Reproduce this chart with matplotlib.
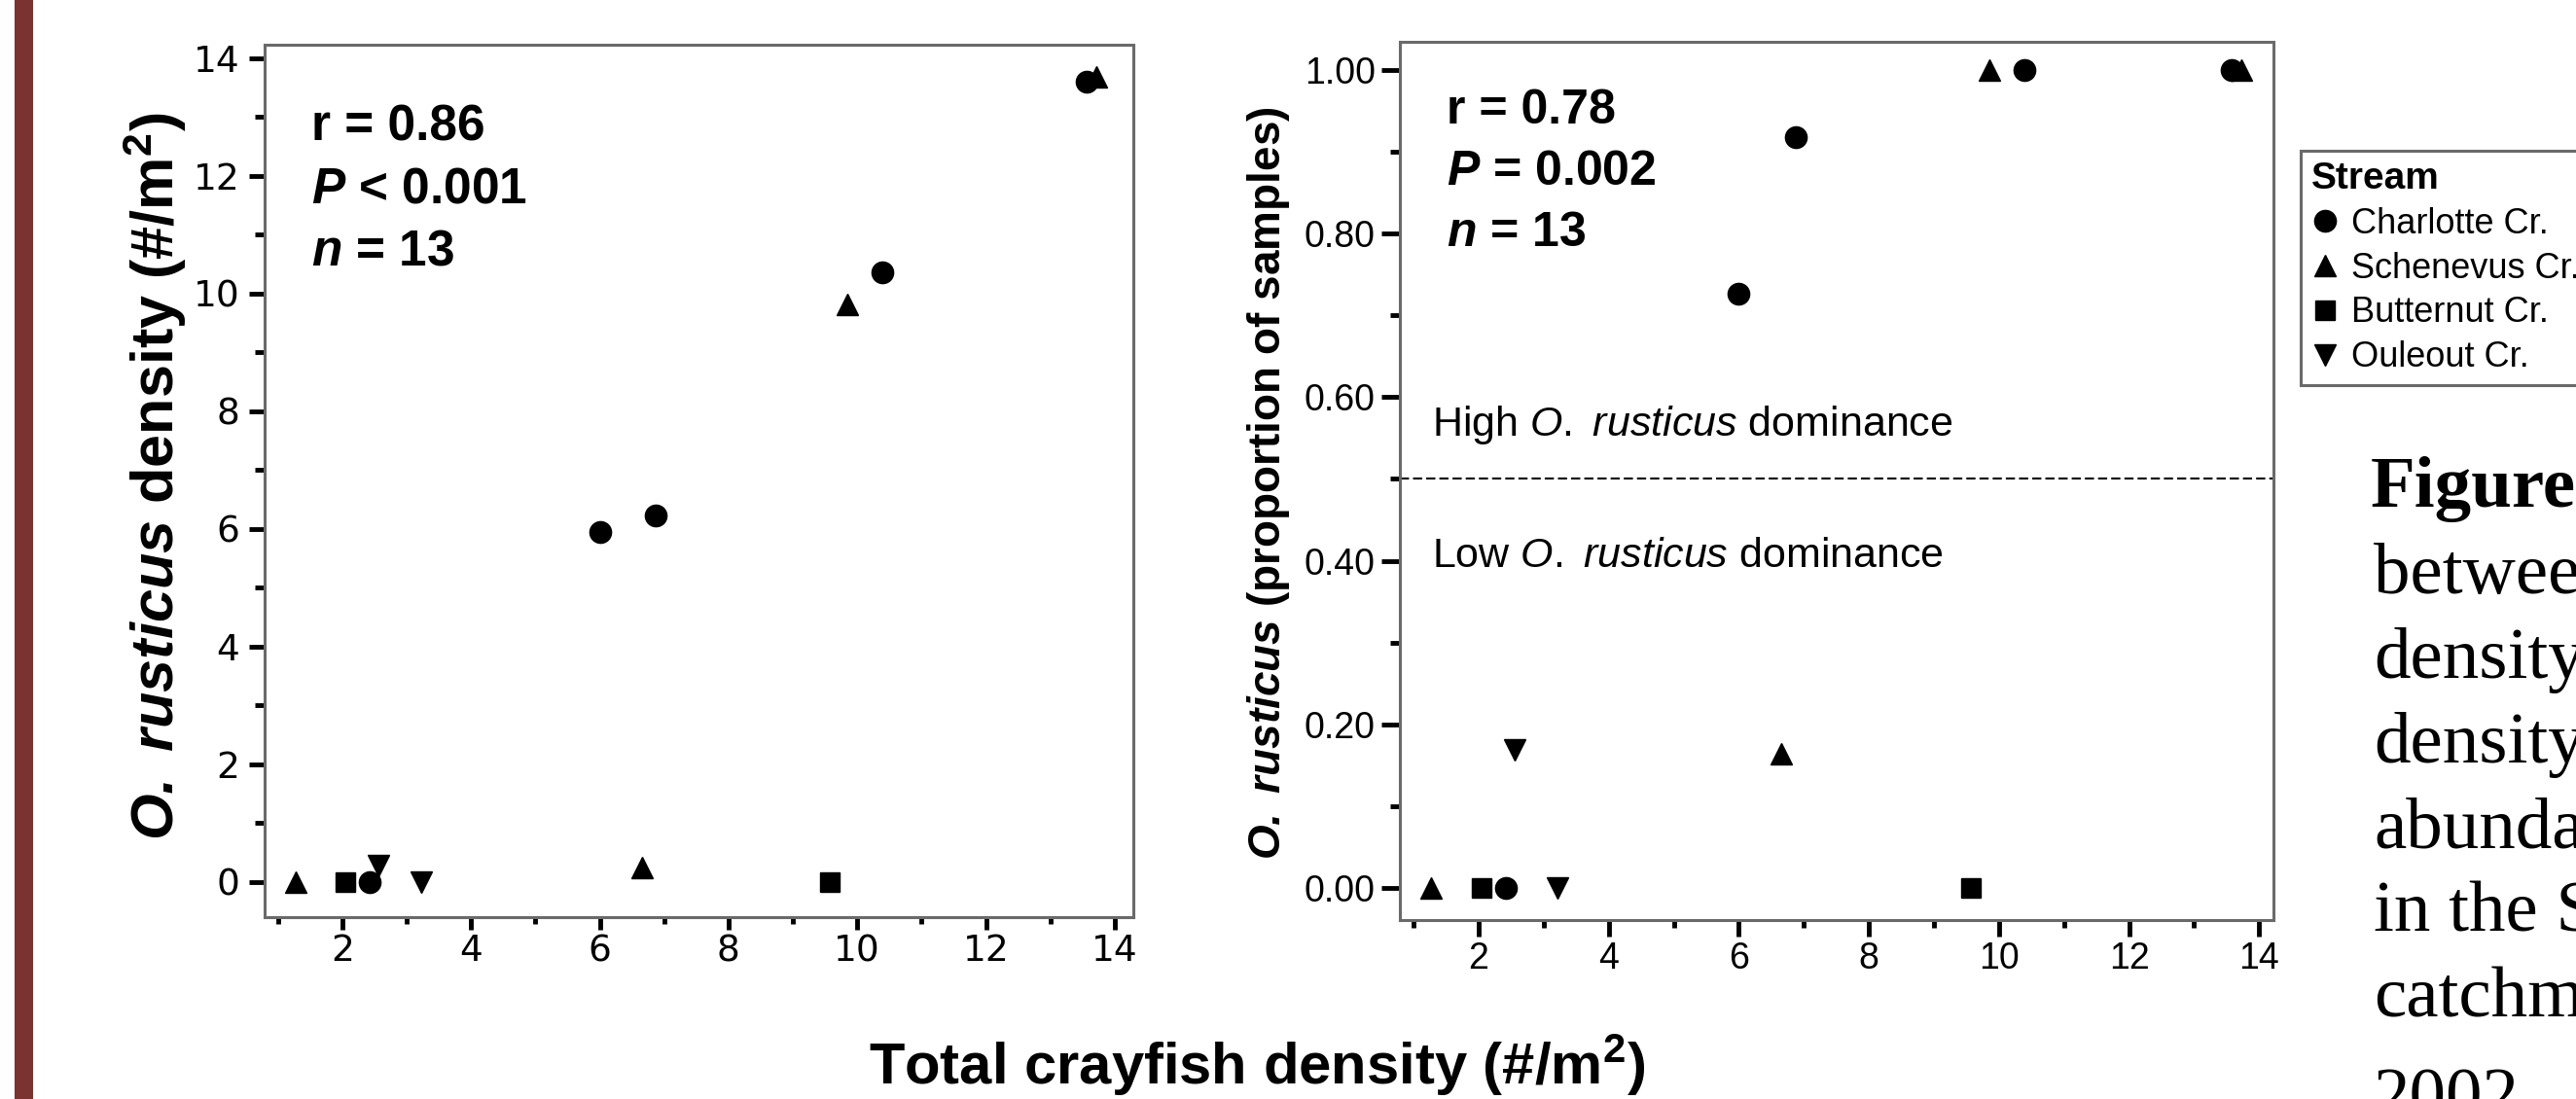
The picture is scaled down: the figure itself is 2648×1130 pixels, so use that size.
import matplotlib
matplotlib.use("Agg")
import matplotlib.pyplot as plt
from matplotlib import font_manager
from matplotlib.patches import Rectangle
from matplotlib.ticker import FormatStrFormatter

# data: total crayfish density (x) per stream,
# O. rusticus density (left panel) and proportion of samples (right panel)
streams = ["Charlotte Cr.", "Schenevus Cr.", "Butternut Cr.", "Ouleout Cr."]
markers = ["o", "^", "s", "v"]

charlotte_total = [2.42, 6.0, 6.87, 10.39, 13.57]
charlotte_dens = [0.0, 5.94, 6.22, 10.36, 13.60]
charlotte_prop = [0.0, 0.726, 0.917, 1.0, 1.0]

schenevus_total = [1.27, 6.66, 9.85, 13.72]
schenevus_dens = [0.0, 0.25, 9.82, 13.68]
schenevus_prop = [0.0, 0.164, 1.0, 1.0]

butternut_total = [2.05, 9.57]
butternut_dens = [0.0, 0.0]
butternut_prop = [0.0, 0.0]

ouleout_total = [2.56, 3.22]
ouleout_dens = [0.28, 0.0]
ouleout_prop = [0.169, 0.0]

stats_left = ["r = 0.86", r"$\mathbfit{P}$ < 0.001", r"$\mathbfit{n}$ = 13"]
stats_right = ["r = 0.78", r"$\mathbfit{P}$ = 0.002", r"$\mathbfit{n}$ = 13"]

# caption fragment, cut by the right edge of the page
caption = ["betwee", "density", "density", "abunda", "in the S", "catchm"]

plt.rcParams["font.family"] = ["Liberation Sans", "DejaVu Sans"]
plt.rcParams["mathtext.fontset"] = "custom"
plt.rcParams["mathtext.rm"] = "Liberation Sans"
plt.rcParams["mathtext.it"] = "Liberation Sans:italic"
plt.rcParams["mathtext.bf"] = "Liberation Sans:bold"
try:
    plt.rcParams["mathtext.bfit"] = "Liberation Sans:italic:bold"
except KeyError:
    pass

names = {f.name for f in font_manager.fontManager.ttflist}
narrow = "Liberation Sans Narrow" if "Liberation Sans Narrow" in names else "DejaVu Sans"

W, H = 2648, 1130
fig = plt.figure(figsize=(W / 100, H / 100), dpi=100)

# dark red bar on the left edge
fig.add_artist(Rectangle((15 / W, 0), 19 / W, 1, transform=fig.transFigure,
                         facecolor="#7a3330", edgecolor="none"))

ax1 = fig.add_axes([272 / W, 1 - 943 / H, (1165 - 272) / W, (943 - 46) / H])
ax2 = fig.add_axes([1439 / W, 1 - 946 / H, (2337 - 1439) / W, (946 - 43) / H])

groups = [
    (charlotte_total, charlotte_dens, charlotte_prop),
    (schenevus_total, schenevus_dens, schenevus_prop),
    (butternut_total, butternut_dens, butternut_prop),
    (ouleout_total, ouleout_dens, ouleout_prop),
]
sizes = [16, 16, 15, 16]
handles = []
for name, m, ms, (tx, dens, prop) in zip(streams, markers, sizes, groups):
    h, = ax1.plot(tx, dens, linestyle="none", marker=m, ms=ms,
                  color="black", label=name, clip_on=False)
    ax2.plot(tx, prop, linestyle="none", marker=m, ms=ms, color="black",
             clip_on=False)
    handles.append(h)

ax1.set_xlim(0.79, 14.29)
ax1.set_ylim(-0.6, 14.23)
ax2.set_xlim(0.79, 14.22)
ax2.set_ylim(-0.039, 1.034)

for ax in (ax1, ax2):
    ax.set_xticks(range(2, 15, 2))
    ax.set_xticks(range(1, 15, 2), minor=True)
    for sp in ax.spines.values():
        sp.set_color("#6a6a6a")
        sp.set_linewidth(2.2)

ax1.set_yticks(range(0, 15, 2))
ax1.set_yticks(range(1, 14, 2), minor=True)
ax2.set_yticks([0, 0.2, 0.4, 0.6, 0.8, 1.0])
ax2.set_yticks([0.1, 0.3, 0.5, 0.7, 0.9], minor=True)
ax2.yaxis.set_major_formatter(FormatStrFormatter("%.2f"))

ax1.tick_params(axis="x", which="major", length=9.5, width=3.5, pad=3)
ax1.tick_params(axis="x", which="minor", length=5, width=3.5)
ax1.tick_params(axis="y", which="major", length=11.5, width=3.5, pad=7)
ax1.tick_params(axis="y", which="minor", length=7, width=3.5)
for lab in ax1.get_xticklabels() + ax1.get_yticklabels():
    lab.set_fontfamily(narrow)
    lab.set_fontsize(27)

ax2.tick_params(axis="x", which="major", length=12, width=3.5, pad=4,
                labelsize=27)
ax2.tick_params(axis="x", which="minor", length=6, width=3.5)
ax2.tick_params(axis="y", which="major", length=14, width=3.5, pad=4,
                labelsize=27)
ax2.tick_params(axis="y", which="minor", length=7, width=3.5)

# statistics text
for i, s in enumerate(stats_left):
    ax1.text(0.054, [0.89, 0.819, 0.748][i], s, transform=ax1.transAxes,
             fontsize=37, fontweight="bold", va="baseline")
for i, s in enumerate(stats_right):
    ax2.text(0.053, [0.907, 0.837, 0.767][i], s, transform=ax2.transAxes,
             fontsize=36, fontweight="bold", va="baseline")

# dominance threshold
ax2.axhline(0.5, color="black", lw=1.5, ls=(0, (4.5, 2)))
ax2.text(0.037, 0.566, r"High $\mathit{O.}$ $\mathit{rusticus}$ dominance",
         transform=ax2.get_yaxis_transform(), fontsize=31, va="center")
ax2.text(0.037, 0.406, r"Low $\mathit{O.}$ $\mathit{rusticus}$ dominance",
         transform=ax2.get_yaxis_transform(), fontsize=31, va="center")

# axis labels
fig.text(159 / W, 1 - 490 / H,
         r"$\mathbfit{O.\ rusticus}$ density (#/m$^\mathbf{2}$)",
         rotation=90, ha="center", va="center", fontsize=44,
         fontweight="bold")
fig.text(1304 / W, 1 - 497 / H,
         r"$\mathbfit{O.\ rusticus}$ (proportion of samples)",
         rotation=90, ha="center", va="center", fontsize=33,
         fontweight="bold")
fig.text(1292 / W, 1 - 1115 / H, r"Total crayfish density (#/m$^\mathbf{2}$)",
         ha="center", va="baseline", fontsize=43, fontweight="bold")

# legend
leg = fig.legend(handles=handles, labels=streams, title="Stream",
                 loc="upper left", bbox_to_anchor=(2365 / W, 1 - 155 / H),
                 bbox_transform=fig.transFigure, fontsize=26,
                 title_fontproperties={"weight": "bold", "size": 28},
                 alignment="left", borderpad=0.3, borderaxespad=0,
                 handlelength=0.8, handletextpad=0.35, labelspacing=0.3,
                 fancybox=False, framealpha=1, edgecolor="#6a6a6a")
leg.get_frame().set_linewidth(2.2)

# caption fragment on the right edge
fig.text(2437 / W, 1 - 521 / H, "Figure", fontsize=54, fontweight="bold",
         family="Liberation Serif", va="baseline")
for i, line in enumerate(caption):
    fig.text(2440 / W, 1 - (610 + 87 * i) / H, line, fontsize=54,
             family="Liberation Serif", va="baseline")
fig.text(2440 / W, 1 - 1150 / H, "2002", fontsize=54,
         family="Liberation Serif", va="baseline")

fig.savefig("out.png", dpi=100)
